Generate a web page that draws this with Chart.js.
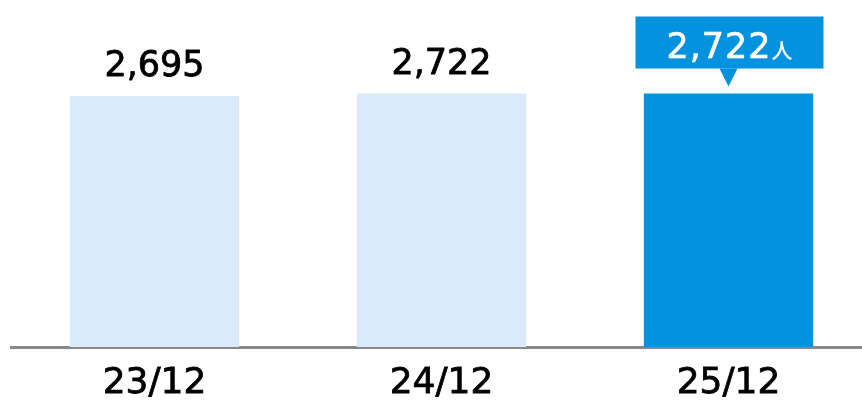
<!DOCTYPE html>
<html>
<head>
<meta charset="utf-8">
<script src="https://cdn.jsdelivr.net/npm/chart.js@4"></script>
<style>
  body { margin: 0; overflow: hidden; background: #fff; }
  #wrap { width: 872px; height: 401px; }
</style>
</head>
<body>
<div id="wrap"><canvas id="grafico"></canvas></div>
<script>
// dados do gráfico
const categorias = ["23/12", "24/12", "25/12"];
const valores = [2695, 2722, 2722];
const rotulos = ["2,695", "2,722", "2,722"];
const unidade = "人";

const corClara = "#daeafb";
const corDestaque = "#0392e0";
const fonte = "'DejaVu Sans', sans-serif";

// rótulos acima das barras + balão na última
const rotulosPlugin = {
    id: "rotulos",
    afterDatasetsDraw(chart) {
        const ctx = chart.ctx;
        const barras = chart.getDatasetMeta(0).data;
        ctx.save();
        ctx.lineJoin = "round";
        barras.forEach(function (bar, i) {
            const ultimo = i === barras.length - 1;
            if (!ultimo) {
                ctx.font = "35px " + fonte;
                ctx.fillStyle = "#000";
                ctx.strokeStyle = "#000";
                ctx.lineWidth = 0.8;
                ctx.textAlign = "center";
                ctx.textBaseline = "alphabetic";
                ctx.fillText(rotulos[i], bar.x, bar.y - 20);
                ctx.strokeText(rotulos[i], bar.x, bar.y - 20);
            } else {
                const w = 188, h = 52;
                const bx = bar.x - w / 2 + 1;
                const by = bar.y - 77;
                ctx.fillStyle = corDestaque;
                ctx.fillRect(bx, by, w, h);
                ctx.beginPath();
                ctx.moveTo(bar.x - 9, by + h);
                ctx.lineTo(bar.x + 9, by + h);
                ctx.lineTo(bar.x, by + h + 18);
                ctx.closePath();
                ctx.fill();

                ctx.fillStyle = "#fff";
                ctx.strokeStyle = "#fff";
                ctx.lineWidth = 0.6;
                ctx.textBaseline = "alphabetic";
                ctx.textAlign = "left";
                ctx.font = "35px " + fonte;
                ctx.letterSpacing = "1px";
                const w1 = ctx.measureText(rotulos[i]).width;
                ctx.font = "500 21px 'Noto Sans CJK JP', sans-serif";
                ctx.letterSpacing = "0px";
                const w2 = ctx.measureText(unidade).width;
                const x0 = bar.x + 1 - (w1 + w2) / 2;
                ctx.font = "35px " + fonte;
                ctx.letterSpacing = "1px";
                ctx.fillText(rotulos[i], x0, by + 41);
                ctx.strokeText(rotulos[i], x0, by + 41);
                ctx.font = "500 21px 'Noto Sans CJK JP', sans-serif";
                ctx.letterSpacing = "0px";
                ctx.fillText(unidade, x0 + w1, by + 41);
            }
        });
        ctx.restore();
    }
};

const ctx = document.getElementById("grafico").getContext("2d");
new Chart(ctx, {
    type: "bar",
    data: {
        labels: categorias,
        datasets: [{
            data: valores,
            backgroundColor: [corClara, corClara, corDestaque],
            barPercentage: 0.59,
            categoryPercentage: 1,
        }],
    },
    options: {
        responsive: true,
        maintainAspectRatio: false,
        animation: false,
        layout: { padding: { left: 11, right: 0, top: 0, bottom: 0 } },
        plugins: { legend: { display: false }, tooltip: { enabled: false } },
        scales: {
            x: {
                grid: { display: false, drawTicks: false },
                border: { display: true, color: "#888888", width: 3 },
                ticks: {
                    color: "#000",
                    padding: 15,
                    textStrokeColor: "#000",
                    textStrokeWidth: 0.8,
                    font: { family: fonte, size: 36 },
                },
                afterFit: function (scale) { scale.height = 54; },
            },
            y: {
                display: false,
                min: 0,
                max: 3726,
            },
        },
    },
    plugins: [rotulosPlugin],
});
</script>
</body>
</html>
